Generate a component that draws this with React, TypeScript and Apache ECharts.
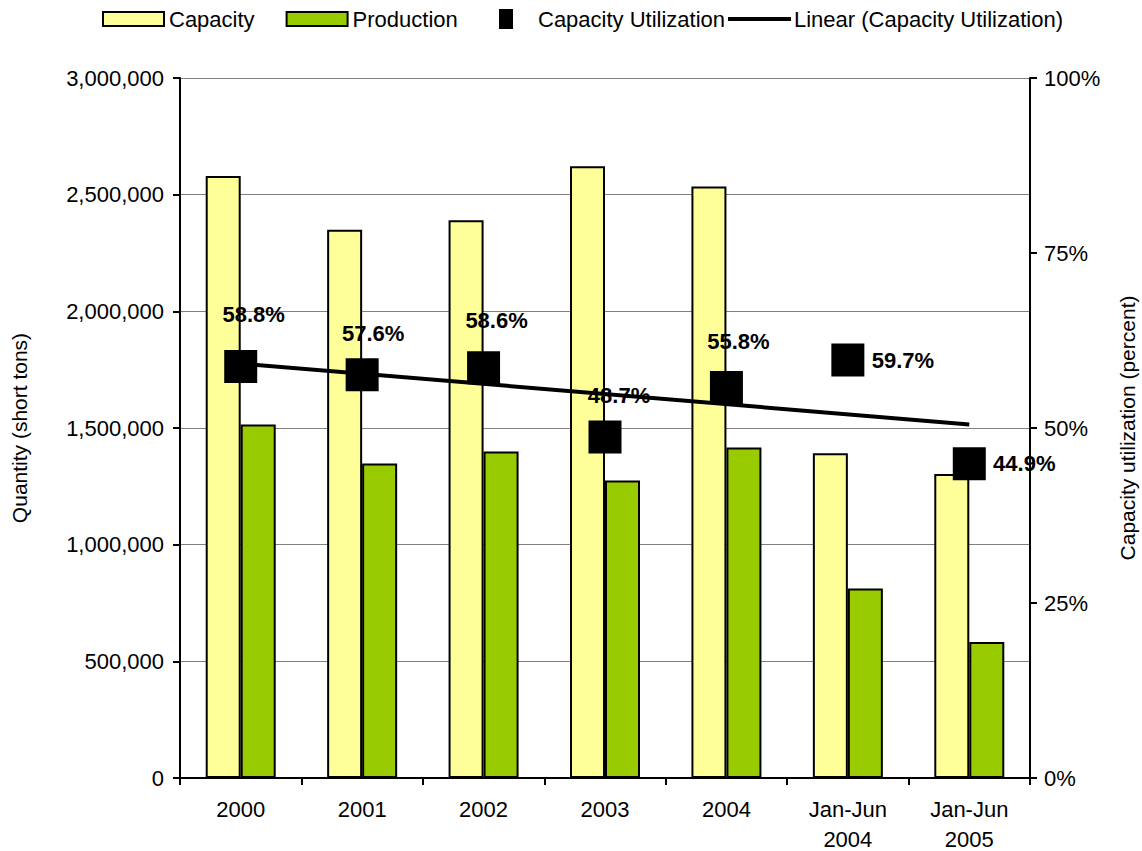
import React, { useEffect, useRef } from "react";
import * as echarts from "echarts";

const categories = ["2000", "2001", "2002", "2003", "2004", "Jan-Jun\n2004", "Jan-Jun\n2005"];
const capacity = [2580000, 2350000, 2390000, 2622000, 2535000, 1392000, 1303000];
const production = [1515000, 1348000, 1399000, 1275000, 1416000, 812000, 583000];
const utilization = [58.8, 57.6, 58.6, 48.7, 55.8, 59.7, 44.9];
// trendline end points (first and last category)
const trendStart = 59.2;
const trendEnd = 50.5;
const leftTicks = [0, 500000, 1000000, 1500000, 2000000, 2500000, 3000000];
const rightTicks = [0, 25, 50, 75, 100];

// label placement relative to marker centre (px)
const labelOffsets: [number, number][] = [
  [13, -52],
  [11, -41],
  [13, -47],
  [14, -42],
  [12, -46],
  [55, 0],
  [55, 0],
];

const FONT = "Liberation Sans, Arial, sans-serif";

export default function App() {
  const ref = useRef<HTMLDivElement>(null);
  useEffect(() => {
    if (!ref.current) return;
    const chart = echarts.init(ref.current, null, { renderer: "svg" });
    const trend = categories.map((_, i) =>
      i === 0 ? trendStart : i === categories.length - 1 ? trendEnd : null
    );
    const option: any = {
      animation: false,
      backgroundColor: "#ffffff",
      textStyle: { fontFamily: FONT, color: "#000" },
      legend: [
        {
          data: ["Capacity", "Production"],
          left: 97,
          top: 3,
          icon: "rect",
          itemWidth: 61,
          itemHeight: 14,
          itemGap: 31,
          textStyle: { fontFamily: FONT, fontSize: 22, color: "#000" },
        },
        {
          data: ["Capacity Utilization"],
          left: 494,
          top: 3,
          icon: "rect",
          itemWidth: 14,
          itemHeight: 20,
          textStyle: { fontFamily: FONT, fontSize: 22, color: "#000", padding: [0, 0, 0, 20] },
        },
        {
          data: ["Linear (Capacity Utilization)"],
          left: 723,
          top: 3,
          icon: "rect",
          itemWidth: 63,
          itemHeight: 4,
          textStyle: { fontFamily: FONT, fontSize: 22, color: "#000", padding: [0, 0, 0, -2] },
        },
      ],
      grid: {
        left: 180,
        right: 112,
        top: 78,
        bottom: 73,
        containLabel: false,
        outerBoundsMode: "none",
      },
      xAxis: {
        type: "category",
        data: categories,
        boundaryGap: true,
        axisLine: { lineStyle: { color: "#000", width: 2 } },
        axisTick: { show: true, alignWithLabel: false, length: 7, lineStyle: { color: "#000", width: 2 } },
        axisLabel: {
          fontFamily: FONT,
          fontSize: 22,
          color: "#000",
          margin: 16,
          lineHeight: 30,
          interval: 0,
        },
      },
      yAxis: [
        {
          type: "value",
          min: leftTicks[0],
          max: leftTicks[leftTicks.length - 1],
          interval: leftTicks[1] - leftTicks[0],
          name: "Quantity (short tons)",
          nameLocation: "middle",
          nameRotate: 90,
          nameGap: 150,
          nameTextStyle: { fontFamily: FONT, fontSize: 21, color: "#000" },
          axisLine: { show: true, lineStyle: { color: "#000", width: 2 } },
          axisTick: { show: true, length: 7, lineStyle: { color: "#000", width: 2 } },
          axisLabel: {
            fontFamily: FONT,
            fontSize: 22,
            color: "#000",
            margin: 16,
            formatter: (v: number) => v.toLocaleString("en-US"),
          },
          splitLine: { show: true, lineStyle: { color: "#808080", width: 1 } },
        },
        {
          type: "value",
          position: "right",
          min: rightTicks[0],
          max: rightTicks[rightTicks.length - 1],
          interval: rightTicks[1] - rightTicks[0],
          name: "Capacity utilization (percent)",
          nameLocation: "middle",
          nameRotate: 90,
          nameGap: 87,
          nameTextStyle: { fontFamily: FONT, fontSize: 21, color: "#000" },
          axisLine: { show: true, lineStyle: { color: "#000", width: 2 } },
          axisTick: { show: true, length: 7, lineStyle: { color: "#000", width: 2 } },
          axisLabel: {
            fontFamily: FONT,
            fontSize: 22,
            color: "#000",
            margin: 14,
            formatter: "{value}%",
          },
          splitLine: { show: false },
        },
      ],
      series: [
        {
          name: "Capacity",
          type: "bar",
          data: capacity,
          barWidth: 35,
          barGap: "0%",
          itemStyle: { color: "#FFFF99", borderColor: "#000", borderWidth: 2 },
        },
        {
          name: "Production",
          type: "bar",
          data: production,
          barWidth: 35,
          barGap: "0%",
          itemStyle: { color: "#99CC00", borderColor: "#000", borderWidth: 2 },
        },
        {
          name: "Linear (Capacity Utilization)",
          type: "line",
          yAxisIndex: 1,
          data: trend,
          connectNulls: true,
          symbol: "none",
          showSymbol: false,
          lineStyle: { color: "#000", width: 4 },
          itemStyle: { color: "#000" },
          z: 3,
        },
        {
          name: "Capacity Utilization",
          type: "scatter",
          yAxisIndex: 1,
          symbol: "rect",
          symbolSize: 33,
          itemStyle: { color: "#000", opacity: 1 },
          z: 4,
          data: utilization.map((v, i) => ({
            value: v,
            label: { offset: labelOffsets[i] },
          })),
          label: {
            show: true,
            position: "inside",
            fontFamily: FONT,
            fontSize: 22,
            fontWeight: "bold",
            color: "#000",
            opacity: 1,
            formatter: (p: any) => `${Number(p.value).toFixed(1)}%`,
          },
        },
      ],
    };
    chart.setOption(option);
    return () => chart.dispose();
  }, []);
  return (
    <div
      ref={ref}
      style={{ position: "fixed", left: 0, top: 0, width: 1142, height: 851, background: "#fff" }}
    />
  );
}
